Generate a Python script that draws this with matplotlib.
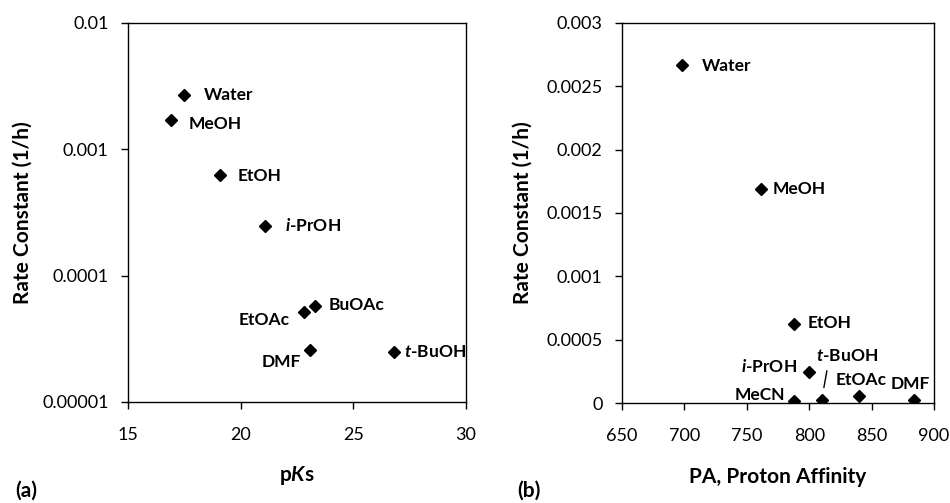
import numpy as np
import matplotlib
matplotlib.use("Agg")
import matplotlib.pyplot as plt
from matplotlib.ticker import FuncFormatter, NullLocator

plt.rcParams['font.family'] = ['Lato', 'DejaVu Sans']
plt.rcParams['mathtext.fontset'] = 'custom'
plt.rcParams['mathtext.rm'] = 'Lato:bold'
plt.rcParams['mathtext.it'] = 'Lato:italic:bold'

# (a) rate constant vs pKs
pks_names = ["Water", "MeOH", "EtOH", "$i$-PrOH", "EtOAc", "BuOAc", "DMF", "$t$-BuOH"]
pks_x = [17.5, 16.9, 19.1, 21.1, 22.8, 23.3, 23.1, 26.8]
pks_k = [0.00268, 0.00170, 0.000625, 0.000248, 0.000052, 0.000058, 0.000026, 0.0000248]

# (b) rate constant vs proton affinity
pa_names = ["Water", "MeOH", "EtOH", "$i$-PrOH", "MeCN", "$t$-BuOH", "EtOAc", "DMF"]
pa_x = [698, 761, 788, 800, 788, 810, 840, 884]
pa_k = [0.00267, 0.00169, 0.000625, 0.000248, 0.000012, 0.0000248, 0.000052, 0.000026]

# label placement (offset pixels, alignment)
pks_offsets = [(20, 0, 'left'), (18, -4, 'left'), (17, -1, 'left'), (20, 0, 'left'),
               (-14, -8, 'right'), (14, 1, 'left'), (-9, -12, 'right'), (10, 0, 'left')]
pa_offsets = [(20, -1, 'left'), (12, 0, 'left'), (13, 1, 'left'), (-12, 5, 'right'),
              (-9, 6, 'right'), (-6, 44, 'left'), (-24, 16, 'left'), (-23, 16, 'left')]

fmt = FuncFormatter(lambda v, pos: np.format_float_positional(v, trim='-'))
tick_fs = 13
label_fs = 15
note_fs = 12.5

fig = plt.figure(figsize=(9.5, 5.03), dpi=100)
ax1 = fig.add_axes([0.1347, 0.2008, 0.3558, 0.7535])
ax2 = fig.add_axes([0.6547, 0.1988, 0.3285, 0.7555])

# Panel (a)
ax1.plot(pks_x, pks_k, 'D', color='black', markersize=6.5)
ax1.set_yscale('log')
ax1.set_ylim(0.00001, 0.01)
ax1.set_xlim(15, 30)
ax1.set_xticks([15, 20, 25, 30])
ax1.set_yticks([0.00001, 0.0001, 0.001, 0.01])
ax1.yaxis.set_minor_locator(NullLocator())
ax1.yaxis.set_major_formatter(fmt)
for name, x, y, (dx, dy, ha) in zip(pks_names, pks_x, pks_k, pks_offsets):
    ax1.annotate(name, (x, y), xytext=(dx, dy), textcoords='offset pixels',
                 ha=ha, va='center', fontsize=note_fs, fontweight='bold')
ax1.set_xlabel("p$K$s", fontsize=label_fs, fontweight='bold', va='center')
ax1.set_ylabel("Rate Constant (1/h)", fontsize=label_fs, fontweight='bold', va='center')
ax1.xaxis.set_label_coords(0.5, -0.195)
ax1.yaxis.set_label_coords(-0.311, 0.5)

# Panel (b)
ax2.plot(pa_x, pa_k, 'D', color='black', markersize=6.5)
ax2.set_ylim(0, 0.003)
ax2.set_xlim(650, 900)
ax2.set_xticks([650, 700, 750, 800, 850, 900])
ax2.set_yticks([0, 0.0005, 0.001, 0.0015, 0.002, 0.0025, 0.003])
ax2.yaxis.set_major_formatter(fmt)
for name, x, y, (dx, dy, ha) in zip(pa_names, pa_x, pa_k, pa_offsets):
    if name == "$t$-BuOH":
        ax2.annotate(name, (x, y), xytext=(dx, dy), textcoords='offset pixels',
                     ha=ha, va='center', fontsize=note_fs, fontweight='bold',
                     arrowprops=dict(arrowstyle='-', color='black', lw=1,
                                     relpos=(0.2, 0), shrinkA=3, shrinkB=9))
    else:
        ax2.annotate(name, (x, y), xytext=(dx, dy), textcoords='offset pixels',
                     ha=ha, va='center', fontsize=note_fs, fontweight='bold')
ax2.set_xlabel("PA, Proton Affinity", fontsize=label_fs, fontweight='bold', va='center')
ax2.set_ylabel("Rate Constant (1/h)", fontsize=label_fs, fontweight='bold', va='center')
ax2.xaxis.set_label_coords(0.5, -0.195)
ax2.yaxis.set_label_coords(-0.317, 0.5)

for ax in (ax1, ax2):
    ax.tick_params(axis='y', direction='out', length=5, width=1, labelsize=tick_fs, pad=9)
    ax.tick_params(axis='x', direction='out', length=5, width=1, labelsize=tick_fs, pad=13)
    for sp in ax.spines.values():
        sp.set_linewidth(1)

fig.text(15 / 950, 1 - 491 / 503, "(a)", fontsize=label_fs, fontweight='bold', ha='left', va='center')
fig.text(517 / 950, 1 - 491 / 503, "(b)", fontsize=label_fs, fontweight='bold', ha='left', va='center')

fig.savefig("out.png", dpi=100)
